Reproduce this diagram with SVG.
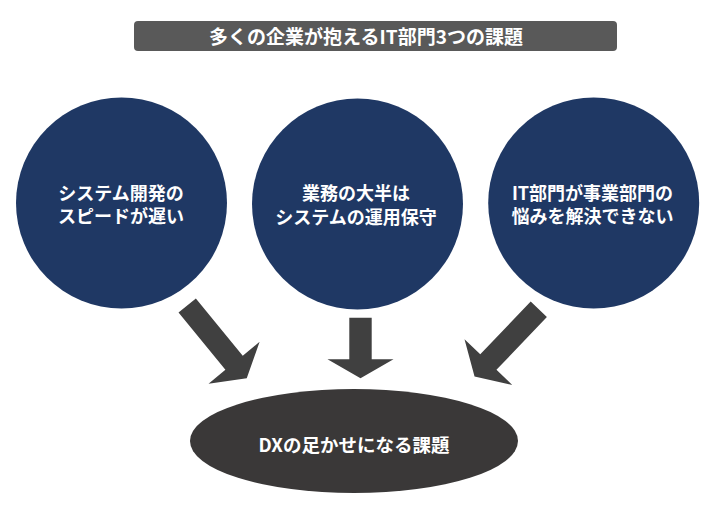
<svg xmlns="http://www.w3.org/2000/svg" width="724" height="510" viewBox="0 0 724 510">
  <style>
    .circle { fill: #1F3864; }
    .label { font-family: "Noto Sans CJK JP", "Noto Sans", sans-serif; font-weight: bold; fill: #FFFFFF; text-anchor: middle; }
    .arrow { fill: #404040; }
  </style>
  <rect width="724" height="510" fill="#FFFFFF"/>
  <g id="title">
    <rect x="134" y="21" width="483" height="30" rx="4" fill="#595959"/>
    <text class="label" x="366" y="43.5" font-size="19">多くの企業が抱えるIT部門3つの課題</text>
  </g>
  <g id="node-speed">
    <circle class="circle" cx="121.5" cy="203" r="105.5"/>
    <text class="label" font-size="18" x="121" y="199.5">システム開発の</text>
    <text class="label" font-size="18" x="121" y="223">スピードが遅い</text>
  </g>
  <g id="node-maintenance">
    <circle class="circle" cx="357.5" cy="204" r="105.5"/>
    <text class="label" font-size="18" x="356" y="200">業務の大半は</text>
    <text class="label" font-size="18" x="356" y="223.5">システムの運用保守</text>
  </g>
  <g id="node-business">
    <circle class="circle" cx="593.7" cy="203" r="105.5"/>
    <text class="label" font-size="18" x="592.5" y="199.5">IT部門が事業部門の</text>
    <text class="label" font-size="18" x="592.5" y="223">悩みを解決できない</text>
  </g>
  <g id="connectors">
    <path class="arrow" transform="translate(187.2,305.5) rotate(-39.3)" d="M-11.2,0 L11.2,0 L11.2,74 L33,74 L0,94 L-33,74 L-11.2,74 Z"/>
    <path class="arrow" transform="translate(360.5,317.7)" d="M-11.2,0 L11.2,0 L11.2,41.6 L33,41.6 L0,60.6 L-33,41.6 L-11.2,41.6 Z"/>
    <path class="arrow" transform="translate(538.8,309.3) rotate(43.7)" d="M-11.2,0 L11.2,0 L11.2,73 L33,73 L0,93 L-33,73 L-11.2,73 Z"/>
  </g>
  <g id="node-dx">
    <ellipse cx="354" cy="441" rx="164" ry="52" fill="#3A3838"/>
    <text class="label" font-size="18.5" x="354" y="451.5">DXの足かせになる課題</text>
  </g>
</svg>
